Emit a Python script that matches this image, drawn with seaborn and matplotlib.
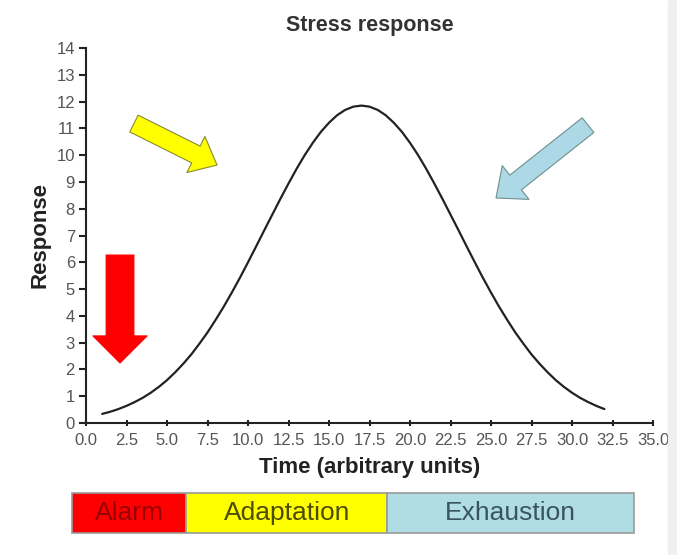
import matplotlib
matplotlib.use('Agg')
import matplotlib.pyplot as plt
import seaborn as sns
import pandas as pd
from matplotlib.patches import Rectangle

# curve (half-unit steps)
time_units = [1, 1.5, 2, 2.5, 3, 3.5, 4, 4.5, 5, 5.5, 6, 6.5, 7, 7.5, 8, 8.5,
              9, 9.5, 10, 10.5, 11, 11.5, 12, 12.5, 13, 13.5, 14, 14.5, 15, 15.5,
              16, 16.5, 17, 17.5, 18, 18.5, 19, 19.5, 20, 20.5, 21, 21.5, 22, 22.5,
              23, 23.5, 24, 24.5, 25, 25.5, 26, 26.5, 27, 27.5, 28, 28.5, 29, 29.5,
              30, 30.5, 31, 31.5, 32]
response = [0.34, 0.42, 0.52, 0.64, 0.78, 0.94, 1.13, 1.35, 1.60, 1.89, 2.21, 2.56,
            2.96, 3.38, 3.85, 4.34, 4.87, 5.42, 6.00, 6.59, 7.19, 7.78, 8.37, 8.94,
            9.49, 10.00, 10.46, 10.87, 11.21, 11.49, 11.69, 11.81, 11.85, 11.81, 11.69,
            11.49, 11.21, 10.87, 10.46, 10.00, 9.49, 8.94, 8.37, 7.78, 7.19, 6.59,
            6.00, 5.42, 4.87, 4.34, 3.85, 3.38, 2.96, 2.56, 2.21, 1.89, 1.60, 1.35,
            1.13, 0.94, 0.78, 0.64, 0.52]

x_ticks = [0.0, 2.5, 5.0, 7.5, 10.0, 12.5, 15.0, 17.5, 20.0, 22.5, 25.0, 27.5, 30.0, 32.5, 35.0]
y_ticks = list(range(0, 15))

# stage bar below the plot, bounds in time units
stage_names = ['Alarm', 'Adaptation', 'Exhaustion']
stage_start = [-0.86, 6.2, 18.6]
stage_end = [6.2, 18.6, 33.8]
stage_fill = ['#ff0000', '#ffff00', '#b0dde4']
stage_text = ['#990000', '#4d4d00', '#3a5560']

df = pd.DataFrame({'Time': time_units, 'Response': response})

sns.set_theme(style='ticks')
plt.rcParams['font.family'] = ['Liberation Sans', 'DejaVu Sans']

fig = plt.figure(figsize=(6.77, 5.55), dpi=100)
fig.patches.append(Rectangle((668 / 677, 0), 9 / 677, 1, transform=fig.transFigure,
                             color='#eef0f4', zorder=0))

ax = fig.add_axes([86 / 677, 132 / 555, 567 / 677, 375 / 555])
sns.lineplot(data=df, x='Time', y='Response', color='#222222', linewidth=1.6, ax=ax)

ax.set_xlim(0, 35)
ax.set_ylim(0, 14)
ax.set_xticks(x_ticks)
ax.set_xticklabels([f'{t:.1f}' for t in x_ticks])
ax.set_yticks(y_ticks)
sns.despine(ax=ax)
for side in ['left', 'bottom']:
    ax.spines[side].set_linewidth(1.5)
    ax.spines[side].set_color('#222222')
ax.tick_params(axis='y', direction='out', length=5, width=1.5, pad=3,
               labelsize=12, labelcolor='#555555', color='#222222')
ax.tick_params(axis='x', direction='inout', length=5, width=1.5, pad=5,
               labelsize=12, labelcolor='#555555', color='#222222')

ax.set_xlabel('Time (arbitrary units)', fontsize=16, fontweight='bold', color='#222222')
ax.set_ylabel('Response', fontsize=16, fontweight='bold', color='#222222')
ax.xaxis.set_label_coords(0.5, -0.09)
ax.yaxis.set_label_coords(-0.062, 0.5)
ax.set_title('Stress response', fontsize=15.5, fontweight='bold', color='#333333', pad=12)

# block arrows (tail -> tip in data coords)
arrows = [
    dict(tail=(2.96, 11.18), tip=(8.09, 9.63), fc='#ffff00', ec='#8a8a30',
         style='simple,head_length=17,head_width=29,tail_width=13.5'),
    dict(tail=(30.99, 11.12), tip=(25.31, 8.40), fc='#add8e6', ec='#6f8f90',
         style='simple,head_length=18,head_width=31,tail_width=13.5'),
    dict(tail=(2.10, 6.27), tip=(2.10, 2.24), fc='#ff0000', ec='#ff0000',
         style='simple,head_length=19.5,head_width=39,tail_width=20'),
]
for a in arrows:
    ax.annotate('', xy=a['tip'], xytext=a['tail'],
                arrowprops=dict(arrowstyle=a['style'], fc=a['fc'], ec=a['ec'],
                                lw=0.8, shrinkA=0, shrinkB=0, mutation_scale=1))

# stage bar
bar_ax = fig.add_axes([86 / 677, 22 / 555, 567 / 677, 40 / 555])
bar_ax.set_xlim(0, 35)
bar_ax.set_ylim(0, 1)
bar_ax.axis('off')
for name, s, e, fc, tc in zip(stage_names, stage_start, stage_end, stage_fill, stage_text):
    bar_ax.barh(0.5, e - s, left=s, height=1, color=fc, edgecolor='#9a9a9a',
                linewidth=1.2, clip_on=False)
    bar_ax.text((s + e) / 2, 0.5, name, ha='center', va='center', fontsize=19,
                color=tc, clip_on=False)

fig.savefig('out.png', dpi=100)
